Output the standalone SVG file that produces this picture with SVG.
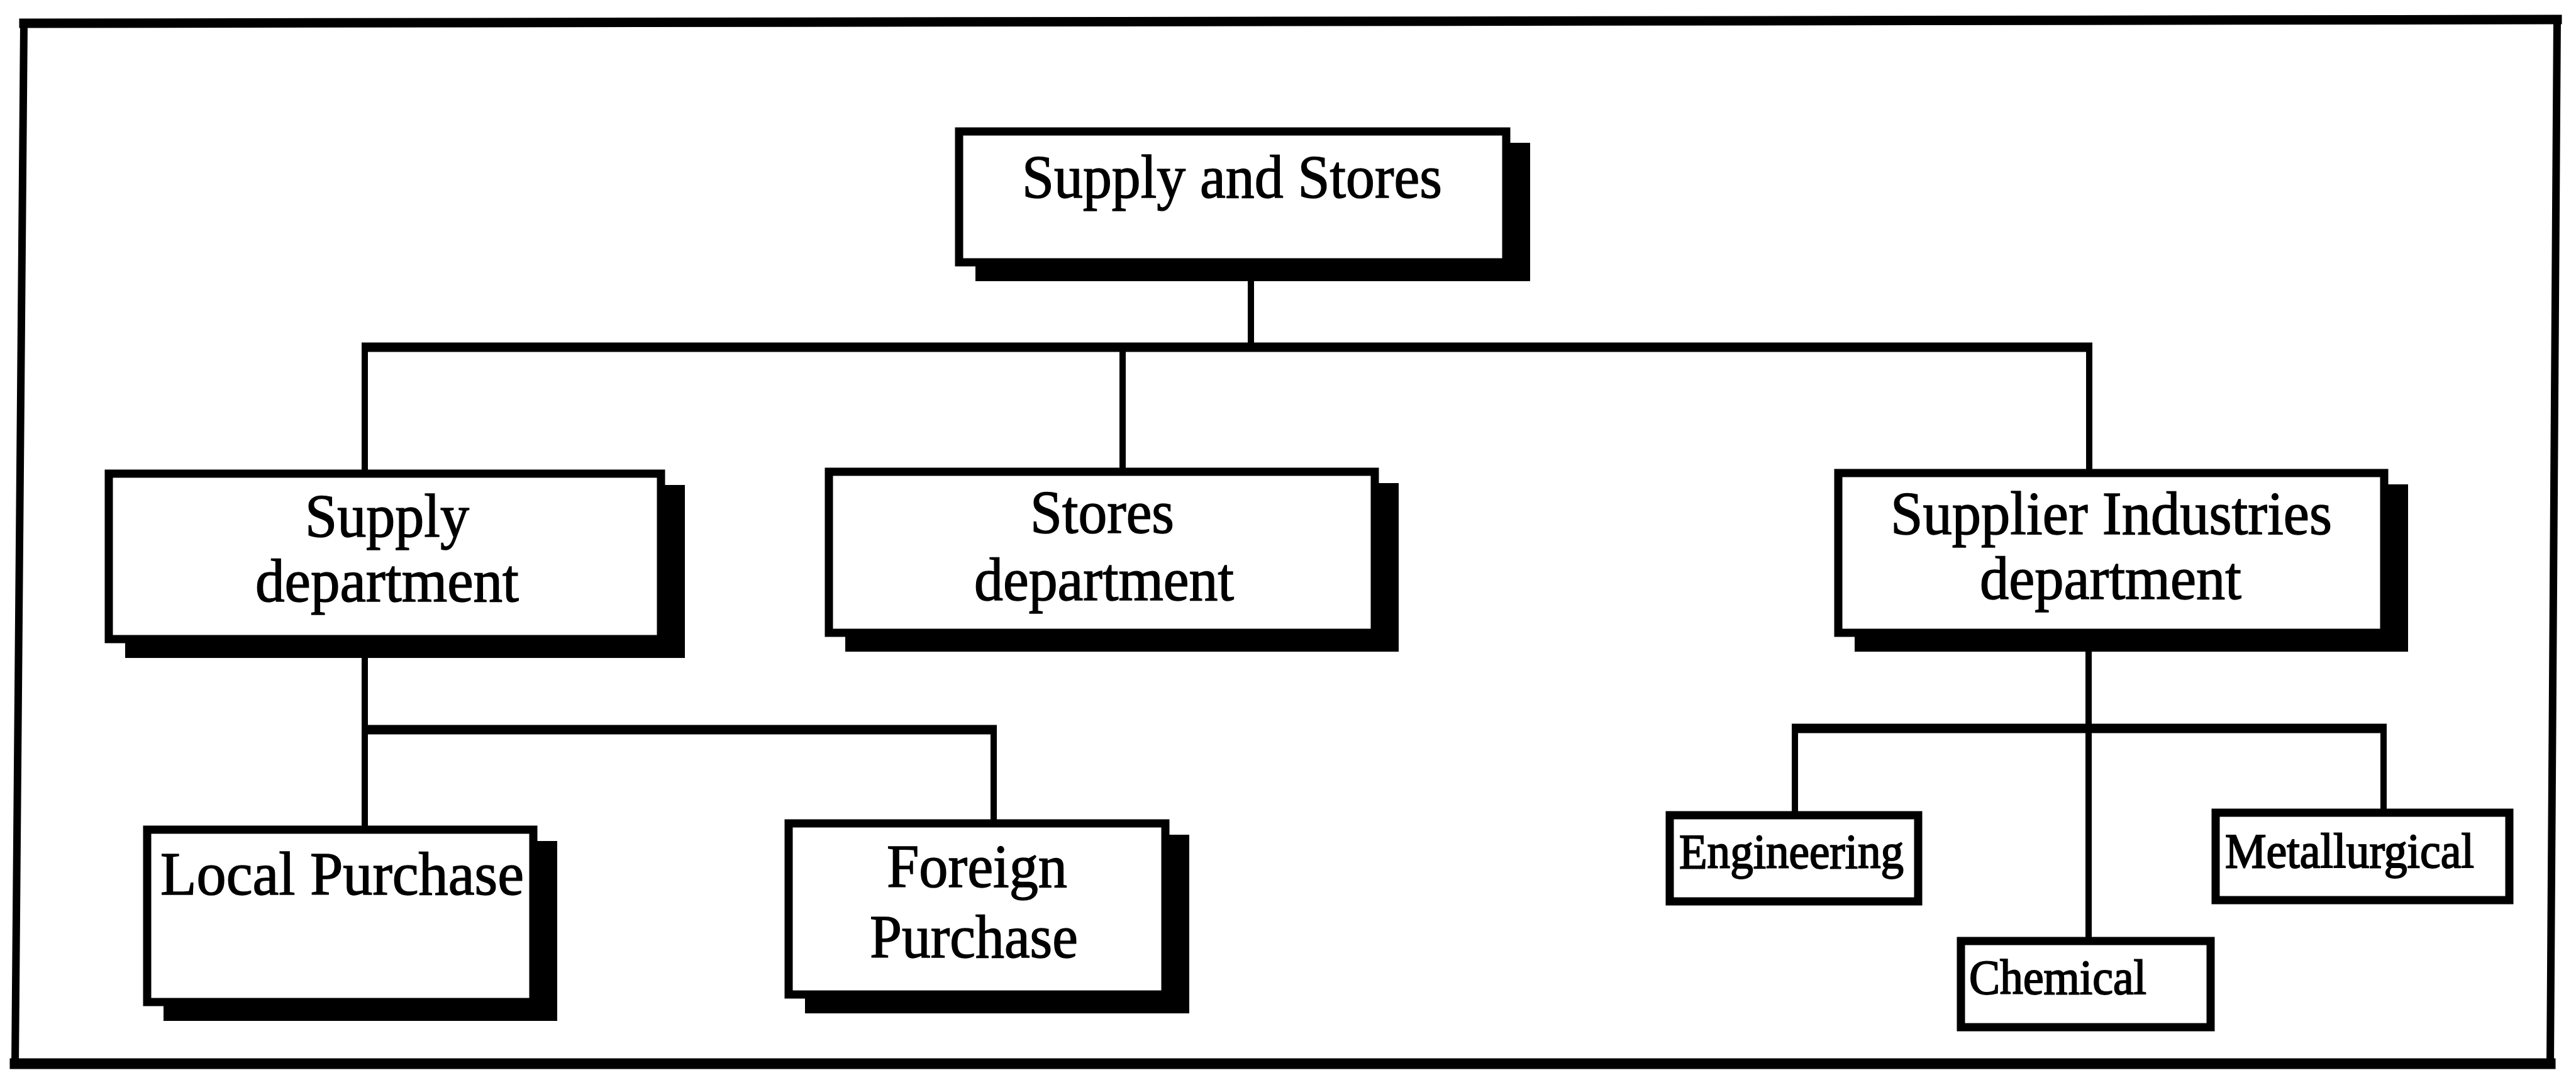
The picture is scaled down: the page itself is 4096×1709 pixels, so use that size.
<svg xmlns="http://www.w3.org/2000/svg" width="4096" height="1709" viewBox="0 0 4096 1709">
  <style>
    .frame { stroke: #000; fill: none; stroke-linecap: square; }
    .box { fill: #fff; stroke: #000; stroke-width: 13; }
    .shadow { fill: #000; }
    .conn line { stroke: #000; stroke-linecap: butt; }
    .conn .h { stroke-width: 15; }
    .conn .v { stroke-width: 10; }
    .lbl { font-family: "Liberation Serif", "Times New Roman", serif; font-size: 98px; fill: #000; stroke: #000; stroke-width: 1.5; }
    .sm { font-size: 78px; stroke-width: 2; }
  </style>

  <rect x="0" y="0" width="4096" height="1709" fill="#fff"/>

  <!-- outer border -->
  <g id="frame" class="frame">
    <line x1="38" y1="37" x2="4066" y2="31" stroke-width="15"/>
    <line x1="4066" y1="31" x2="4055" y2="1691" stroke-width="12"/>
    <line x1="4055" y1="1691" x2="24" y2="1691" stroke-width="17"/>
    <line x1="24" y1="1691" x2="38" y2="37" stroke-width="12"/>
  </g>

  <!-- connectors -->
  <g id="connectors" class="conn">
    <line class="v" x1="1989" y1="423" x2="1989" y2="552"/>
    <line class="h" x1="575" y1="552" x2="3327" y2="552"/>
    <line class="v" x1="580" y1="552" x2="580" y2="747"/>
    <line class="v" x1="1785" y1="552" x2="1785" y2="744"/>
    <line class="v" x1="3322" y1="552" x2="3322" y2="746"/>

    <line class="v" x1="580" y1="1022" x2="580" y2="1313"/>
    <line class="h" x1="575" y1="1160" x2="1585" y2="1160"/>
    <line class="v" x1="1580" y1="1160" x2="1580" y2="1303"/>

    <line class="v" x1="3321" y1="1012" x2="3321" y2="1490"/>
    <line class="h" x1="2849" y1="1158" x2="3795" y2="1158"/>
    <line class="v" x1="2854" y1="1158" x2="2854" y2="1290"/>
    <line class="v" x1="3790" y1="1158" x2="3790" y2="1286"/>
  </g>

  <!-- top level -->
  <g id="supply-and-stores">
    <rect class="shadow" x="1551" y="227" width="882" height="220"/>
    <rect class="box" x="1525" y="209" width="870" height="208"/>
    <text class="lbl" x="1625" y="314" textLength="668" lengthAdjust="spacingAndGlyphs">Supply and Stores</text>
  </g>

  <!-- departments -->
  <g id="supply-department">
    <rect class="shadow" x="199" y="771" width="890" height="275"/>
    <rect class="box" x="173" y="753" width="878" height="263"/>
    <text class="lbl" x="485" y="853" textLength="261" lengthAdjust="spacingAndGlyphs">Supply</text>
    <text class="lbl" x="406" y="956" textLength="419" lengthAdjust="spacingAndGlyphs">department</text>
  </g>

  <g id="stores-department">
    <rect class="shadow" x="1344" y="768" width="880" height="268"/>
    <rect class="box" x="1318" y="750" width="868" height="256"/>
    <text class="lbl" x="1638" y="847" textLength="229" lengthAdjust="spacingAndGlyphs">Stores</text>
    <text class="lbl" x="1549" y="954" textLength="413" lengthAdjust="spacingAndGlyphs">department</text>
  </g>

  <g id="supplier-industries-department">
    <rect class="shadow" x="2949" y="770" width="880" height="266"/>
    <rect class="box" x="2923" y="752" width="868" height="254"/>
    <text class="lbl" x="3006" y="849" textLength="702" lengthAdjust="spacingAndGlyphs">Supplier Industries</text>
    <text class="lbl" x="3148" y="952" textLength="416" lengthAdjust="spacingAndGlyphs">department</text>
  </g>

  <!-- purchase sections -->
  <g id="local-purchase">
    <rect class="shadow" x="260" y="1337" width="626" height="286"/>
    <rect class="box" x="234" y="1319" width="614" height="274"/>
    <text class="lbl" x="255" y="1422" textLength="578" lengthAdjust="spacingAndGlyphs">Local Purchase</text>
  </g>

  <g id="foreign-purchase">
    <rect class="shadow" x="1280" y="1327" width="611" height="284"/>
    <rect class="box" x="1254" y="1309" width="599" height="272"/>
    <text class="lbl" x="1410" y="1410" textLength="287" lengthAdjust="spacingAndGlyphs">Foreign</text>
    <text class="lbl" x="1383" y="1522" textLength="331" lengthAdjust="spacingAndGlyphs">Purchase</text>
  </g>

  <!-- supplier industry branches -->
  <g id="engineering">
    <rect class="box" x="2655" y="1296" width="395" height="137"/>
    <text class="lbl sm" x="2670" y="1380" textLength="357" lengthAdjust="spacingAndGlyphs">Engineering</text>
  </g>

  <g id="metallurgical">
    <rect class="box" x="3523" y="1292" width="467" height="139"/>
    <text class="lbl sm" x="3538" y="1379" textLength="396" lengthAdjust="spacingAndGlyphs">Metallurgical</text>
  </g>

  <g id="chemical">
    <rect class="box" x="3118" y="1496" width="397" height="137"/>
    <text class="lbl sm" x="3131" y="1580" textLength="282" lengthAdjust="spacingAndGlyphs">Chemical</text>
  </g>
</svg>
